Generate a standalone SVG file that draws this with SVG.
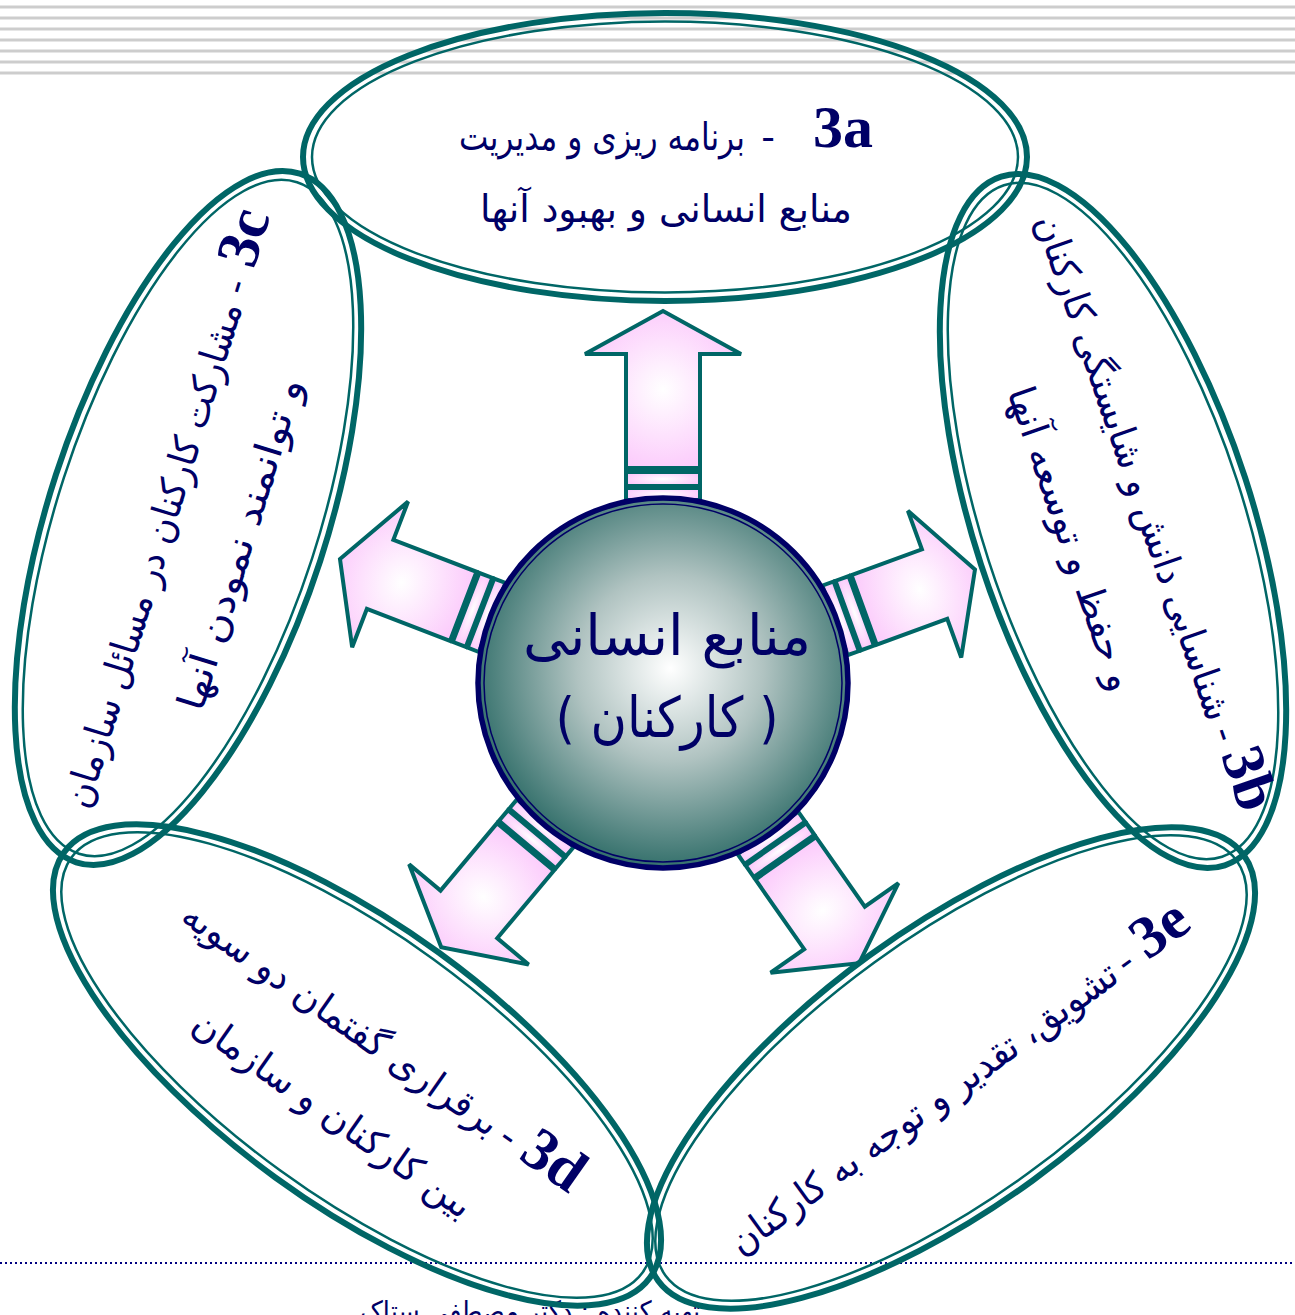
<svg xmlns="http://www.w3.org/2000/svg" width="1295" height="1315" viewBox="0 0 1295 1315">
<defs>
<radialGradient id="pink" cx="0.5" cy="0.5" r="0.6">
<stop offset="0" stop-color="#ffffff"/>
<stop offset="1" stop-color="#fbc4fb"/>
</radialGradient>
<radialGradient id="ball" cx="0.52" cy="0.46" r="0.56">
<stop offset="0" stop-color="#ffffff"/>
<stop offset="0.45" stop-color="#b0c3c1"/>
<stop offset="1" stop-color="#2b6a65"/>
</radialGradient>
<style>
.stripe{stroke:#cdcdcd;stroke-width:3}
.eo{fill:none;stroke:#006666;stroke-width:6}
.ei{fill:none;stroke:#006666;stroke-width:2.5}
.arrow{fill:url(#pink);stroke:#006666;stroke-width:4}
.fa{font-family:"DejaVu Sans",sans-serif;fill:#000066;font-size:38px}
.lbl{font-family:"Liberation Serif","Times New Roman",serif;font-weight:bold;fill:#000066;font-size:60px}
</style>
</defs>
<g id="stripes">
<line class="stripe" x1="0" y1="7" x2="1295" y2="7"/>
<line class="stripe" x1="0" y1="18" x2="1295" y2="18"/>
<line class="stripe" x1="0" y1="29" x2="1295" y2="29"/>
<line class="stripe" x1="0" y1="40" x2="1295" y2="40"/>
<line class="stripe" x1="0" y1="51" x2="1295" y2="51"/>
<line class="stripe" x1="0" y1="62" x2="1295" y2="62"/>
<line class="stripe" x1="0" y1="73" x2="1295" y2="73"/>
</g>
<line x1="0" y1="1263" x2="1295" y2="1263" stroke="#000080" stroke-width="2" stroke-dasharray="2 3"/>
<text class="fa" x="530" y="1321" text-anchor="middle" style="font-size:28px" textLength="340" lengthAdjust="spacingAndGlyphs">تهیه کننده : دکتر مصطفی ستاک</text>

<g id="connectors">
<g transform="translate(663,683) rotate(-90)">
<rect class="arrow" x="183" y="-37" width="12" height="74"/>
<rect class="arrow" x="197" y="-37" width="14" height="74"/>
<path class="arrow" d="M215,-37 L329,-37 L329,-78 L372,0 L329,78 L329,37 L215,37 Z"/>
</g>
<g transform="translate(663,683) rotate(-20)">
<rect class="arrow" x="183" y="-37" width="12" height="74"/>
<rect class="arrow" x="197" y="-37" width="14" height="74"/>
<path class="arrow" d="M214,-37 L289,-37 L289,-78 L332,0 L289,78 L289,37 L214,37 Z"/>
</g>
<g transform="translate(663,683) rotate(55)">
<rect class="arrow" x="183" y="-37" width="12" height="74"/>
<rect class="arrow" x="197" y="-37" width="14" height="74"/>
<path class="arrow" d="M214,-37 L299,-37 L299,-78 L342,0 L299,78 L299,37 L214,37 Z"/>
</g>
<g transform="translate(663,683) rotate(130)">
<rect class="arrow" x="183" y="-37" width="12" height="74"/>
<rect class="arrow" x="197" y="-37" width="14" height="74"/>
<path class="arrow" d="M214,-37 L302,-37 L302,-78 L345,0 L302,78 L302,37 L214,37 Z"/>
</g>
<g transform="translate(663,683) rotate(201)">
<rect class="arrow" x="183" y="-37" width="12" height="74"/>
<rect class="arrow" x="197" y="-37" width="14" height="74"/>
<path class="arrow" d="M214,-37 L303,-37 L303,-78 L346,0 L303,78 L303,37 L214,37 Z"/>
</g>
</g>

<g id="node-3a">
<ellipse class="eo" cx="665" cy="157" rx="362" ry="144"/>
<ellipse class="ei" cx="665" cy="157" rx="353" ry="135.5"/>
<text class="lbl" x="813" y="147">3a</text>
<text class="fa" x="768" y="150" text-anchor="middle">-</text>
<text class="fa" x="602" y="150" text-anchor="middle" textLength="286" lengthAdjust="spacingAndGlyphs">برنامه ریزی و مدیریت</text>
<text class="fa" x="666" y="222" text-anchor="middle" textLength="372" lengthAdjust="spacingAndGlyphs">منابع انسانی و بهبود آنها</text>
</g>

<g id="node-3b">
<g transform="translate(1113,521) rotate(72)">
<ellipse class="eo" cx="0" cy="0" rx="362" ry="139"/>
<ellipse class="ei" cx="0" cy="0" rx="353" ry="130.5"/>
</g>
<g transform="translate(1145,510) rotate(71)">
<text class="lbl" x="256" y="8">3b</text>
<text class="fa" x="238" y="10" text-anchor="middle">-</text>
<text class="fa" x="-44" y="10" text-anchor="middle" textLength="532" lengthAdjust="spacingAndGlyphs">شناسایی دانش و شایستگی کارکنان</text>
<text class="fa" x="3" y="92" text-anchor="middle" textLength="319" lengthAdjust="spacingAndGlyphs">و حفظ و توسعه آنها</text>
</g>
</g>

<g id="node-3c">
<g transform="translate(188,518) rotate(-72)">
<ellipse class="eo" cx="0" cy="0" rx="362" ry="139"/>
<ellipse class="ei" cx="0" cy="0" rx="353" ry="130.5"/>
</g>
<g transform="translate(170,510) rotate(-73)">
<text class="lbl" x="254" y="10">3c</text>
<text class="fa" x="233" y="10" text-anchor="middle">-</text>
<text class="fa" x="-48" y="10" text-anchor="middle" textLength="526" lengthAdjust="spacingAndGlyphs">مشارکت کارکنان در مسائل سازمان</text>
<text class="fa" x="-12" y="90" text-anchor="middle" textLength="345" lengthAdjust="spacingAndGlyphs">و توانمند نمودن آنها</text>
</g>
</g>

<g id="node-3d">
<g transform="translate(357,1065) rotate(36)">
<ellipse class="eo" cx="0" cy="0" rx="362" ry="139"/>
<ellipse class="ei" cx="0" cy="0" rx="353" ry="130.5"/>
</g>
<g transform="translate(378,1048) rotate(35)">
<text class="lbl" x="177" y="10">3d</text>
<text class="fa" x="158" y="10" text-anchor="middle">-</text>
<text class="fa" x="-47" y="10" text-anchor="middle" textLength="378" lengthAdjust="spacingAndGlyphs">برقراری گفتمان دو سویه</text>
<text class="fa" x="1" y="93" text-anchor="middle" textLength="332" lengthAdjust="spacingAndGlyphs">بین کارکنان و سازمان</text>
</g>
</g>

<g id="node-3e">
<g transform="translate(951,1068) rotate(-36)">
<ellipse class="eo" cx="0" cy="0" rx="362" ry="139"/>
<ellipse class="ei" cx="0" cy="0" rx="353" ry="130.5"/>
</g>
<g transform="translate(964,1082) rotate(-36)">
<text class="lbl" x="220" y="10">3e</text>
<text class="fa" x="201" y="10" text-anchor="middle">-</text>
<text class="fa" x="-48" y="10" text-anchor="middle" textLength="470" lengthAdjust="spacingAndGlyphs">تشویق، تقدیر و توجه به کارکنان</text>
</g>
</g>

<g id="node-center">
<circle cx="663" cy="683" r="185" fill="url(#ball)" stroke="#000066" stroke-width="5.5"/>
<circle cx="663" cy="683" r="179" fill="none" stroke="#000066" stroke-width="1.5"/>
<text class="fa" x="667" y="655" text-anchor="middle" style="font-size:56px" textLength="288" lengthAdjust="spacingAndGlyphs">منابع انسانی</text>
<text class="fa" x="667" y="737" text-anchor="middle" style="font-size:56px" textLength="223" lengthAdjust="spacingAndGlyphs">( کارکنان )</text>
</g>
</svg>
